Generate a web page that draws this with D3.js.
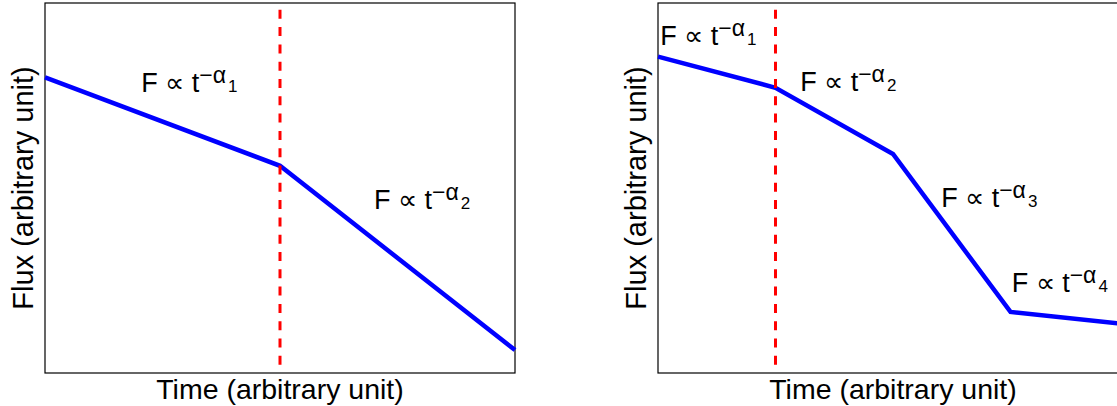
<!DOCTYPE html>
<html>
<head>
<meta charset="utf-8">
<script src="https://cdn.jsdelivr.net/npm/d3@7"></script>
<style>
  html, body { margin: 0; padding: 0; background: #fff; }
  svg { display: block; }
  text { font-family: "Liberation Sans", Arial, Helvetica, sans-serif; fill: #000; }
</style>
</head>
<body>
<svg id="chart" width="1117" height="406"></svg>
<script>
// Broken power-law sketches, log time vs log flux (arbitrary units)
const leftTime = [0, 1, 2]
const leftFlux = [7.99, 5.60, 0.62]
const leftBreak = 1
const leftLabels = [
  { x: 0.41, y: 7.60, sub: "1" },
  { x: 1.40, y: 4.42, sub: "2" }
]

const rightTime = [0, 1, 2, 3, 4]
const rightFlux = [8.55, 7.71, 5.92, 1.65, 1.31]
const rightBreak = 1
const rightLabels = [
  { x: 0.02, y: 8.86, sub: "1" },
  { x: 1.21, y: 7.61, sub: "2" },
  { x: 2.41, y: 4.49, sub: "3" },
  { x: 3.01, y: 2.18, sub: "4" }
]

const fluxDomain = [0, 10]
const xLabel = "Time (arbitrary unit)"
const yLabel = "Flux (arbitrary unit)"

const svg = d3.select("#chart")

function drawPanel(opts) {
  const { left, width, times, flux, brk, labels } = opts
  const top = 3, height = 370

  const x = d3.scaleLinear().domain(d3.extent(times)).range([left, left + width])
  const y = d3.scaleLinear().domain(fluxDomain).range([top + height, top])

  const g = svg.append("g")

  // Axes box
  g.append("rect")
    .attr("x", left).attr("y", top)
    .attr("width", width).attr("height", height)
    .attr("fill", "none")
    .attr("stroke", "#000")
    .attr("stroke-width", 1.2)

  // Light curve
  const pts = times.map((t, i) => [t, flux[i]])
  g.append("path")
    .datum(pts)
    .attr("d", d3.line().x(d => x(d[0])).y(d => y(d[1])))
    .attr("fill", "none")
    .attr("stroke", "#0000ff")
    .attr("stroke-width", 4.5)

  // Break time marker
  g.append("line")
    .attr("x1", x(brk)).attr("x2", x(brk))
    .attr("y1", y(fluxDomain[1])).attr("y2", y(fluxDomain[0]))
    .attr("stroke", "#ff0000")
    .attr("stroke-width", 3)
    .attr("stroke-dasharray", "9 8.3")
    .attr("stroke-dashoffset", 10.5)

  // Power-law labels: F ∝ t^(−α_n)
  labels.forEach(l => {
    const t = g.append("text")
      .attr("x", x(l.x)).attr("y", y(l.y))
      .attr("font-size", 27)
    t.append("tspan").text("F \u221D t")
    t.append("tspan").attr("font-size", 23).attr("dy", -9).attr("dx", 0).text("\u2212\u03B1")
    t.append("tspan").attr("font-size", 17).attr("dy", 9).attr("dx", 2).text(l.sub)
  })

  // Axis labels
  g.append("text")
    .attr("x", left + width / 2).attr("y", 399)
    .attr("text-anchor", "middle")
    .attr("font-size", 28.5)
    .text(xLabel)

  g.append("text")
    .attr("transform", `translate(${left - 12},${top + height / 2}) rotate(-90)`)
    .attr("text-anchor", "middle")
    .attr("font-size", 29)
    .text(yLabel)
}

drawPanel({ left: 45, width: 470, times: leftTime, flux: leftFlux, brk: leftBreak, labels: leftLabels })
drawPanel({ left: 658, width: 470, times: rightTime, flux: rightFlux, brk: rightBreak, labels: rightLabels })
</script>
</body>
</html>
